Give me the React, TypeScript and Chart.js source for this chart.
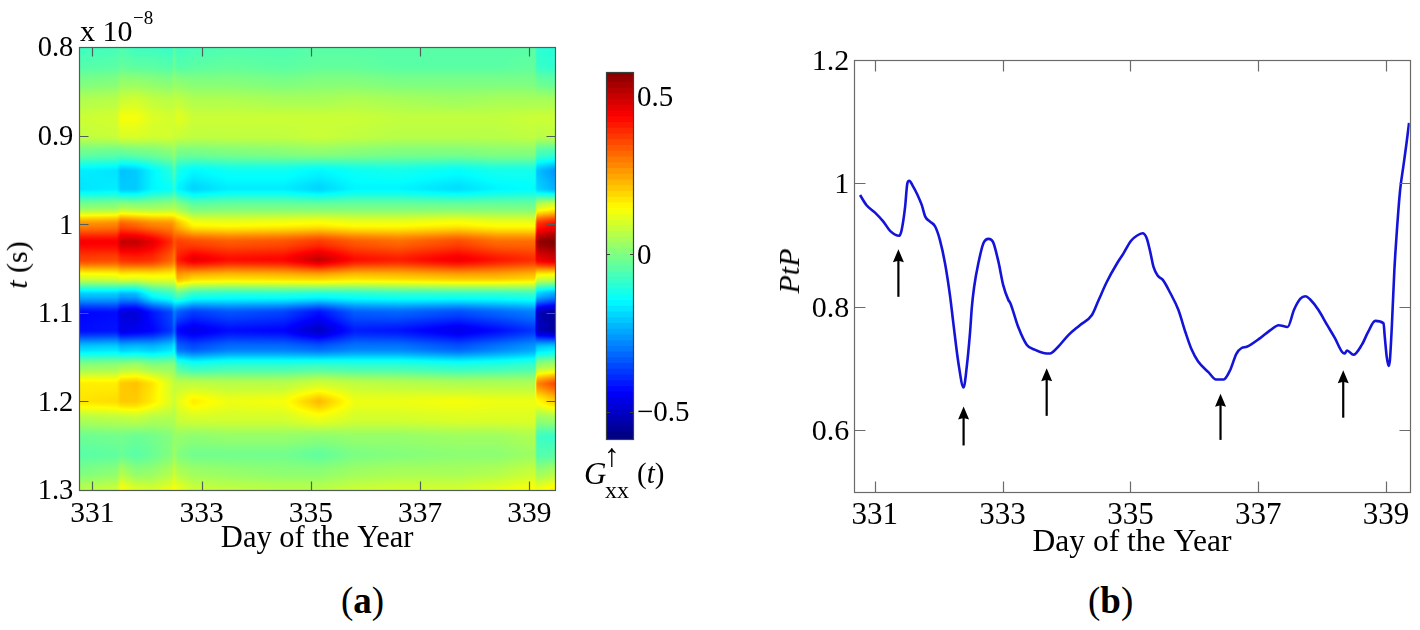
import React, { useEffect, useRef } from "react";
import { Chart, registerables } from "chart.js";

Chart.register(...registerables);

const FONT = '"Liberation Serif", "Times New Roman", serif';

// ---- panel (a) heat map ----
const tRows = [0.8, 0.82, 0.84, 0.86, 0.88, 0.9, 0.92, 0.94, 0.96, 0.98, 1.0, 1.02, 1.04, 1.06, 1.08, 1.1, 1.12, 1.14, 1.16, 1.18, 1.2, 1.22, 1.24, 1.26, 1.28, 1.3];
const heatDays = [330.76, 331.45, 331.52, 331.8, 332.1, 332.45, 332.5, 332.56, 332.85, 333.5, 334.5, 335.15, 335.8, 336.6, 337.7, 338.4, 339.1, 339.14, 339.47];
const heatColumns = [
  [-0.08, -0.06, -0.01, 0.05, 0.08, 0.07, -0.03, -0.17, -0.18, 0.0, 0.27, 0.44, 0.36, 0.1, -0.22, -0.44, -0.43, -0.2, 0.01, 0.16, 0.17, 0.05, -0.03, -0.05, -0.01, 0.06],
  [-0.07, -0.05, 0.0, 0.06, 0.09, 0.08, -0.04, -0.18, -0.17, 0.01, 0.28, 0.44, 0.35, 0.11, -0.22, -0.43, -0.42, -0.19, 0.02, 0.16, 0.18, 0.06, -0.02, -0.04, 0.01, 0.08],
  [-0.06, -0.04, 0.02, 0.08, 0.13, 0.1, -0.04, -0.22, -0.21, 0.03, 0.33, 0.5, 0.38, 0.13, -0.25, -0.48, -0.47, -0.22, 0.03, 0.2, 0.2, 0.06, -0.02, -0.03, 0.05, 0.14],
  [-0.08, -0.05, 0.02, 0.09, 0.13, 0.1, -0.03, -0.21, -0.21, 0.02, 0.31, 0.5, 0.39, 0.12, -0.24, -0.49, -0.46, -0.21, 0.04, 0.21, 0.2, 0.07, -0.03, -0.05, 0.01, 0.1],
  [-0.08, -0.05, 0.01, 0.07, 0.1, 0.09, -0.02, -0.16, -0.16, 0.02, 0.28, 0.46, 0.38, 0.13, -0.14, -0.42, -0.44, -0.22, 0.01, 0.17, 0.16, 0.05, -0.02, -0.03, 0.02, 0.09],
  [-0.09, -0.06, 0.0, 0.06, 0.09, 0.09, 0.0, -0.11, -0.14, 0.03, 0.27, 0.38, 0.32, 0.13, -0.1, -0.36, -0.38, -0.19, 0.01, 0.09, 0.1, 0.05, 0.0, 0.0, 0.05, 0.12],
  [-0.05, -0.03, 0.02, 0.07, 0.09, 0.08, 0.02, -0.06, -0.1, 0.04, 0.25, 0.34, 0.29, 0.12, -0.08, -0.3, -0.33, -0.16, 0.01, 0.07, 0.08, 0.05, 0.02, 0.03, 0.08, 0.14],
  [-0.08, -0.06, 0.01, 0.07, 0.11, 0.08, -0.02, -0.13, -0.16, 0.02, 0.22, 0.36, 0.4, 0.24, -0.05, -0.34, -0.44, -0.32, -0.07, 0.07, 0.11, 0.08, 0.02, 0.0, 0.05, 0.12],
  [-0.07, -0.05, 0.0, 0.05, 0.08, 0.07, -0.02, -0.16, -0.2, -0.03, 0.14, 0.35, 0.46, 0.2, -0.11, -0.38, -0.47, -0.35, -0.11, 0.07, 0.16, 0.09, 0.01, -0.02, 0.03, 0.08],
  [-0.06, -0.04, 0.0, 0.05, 0.08, 0.07, -0.01, -0.14, -0.17, -0.02, 0.13, 0.33, 0.42, 0.19, -0.12, -0.35, -0.43, -0.31, -0.09, 0.06, 0.12, 0.09, 0.02, -0.02, 0.02, 0.07],
  [-0.06, -0.05, -0.01, 0.04, 0.08, 0.07, 0.0, -0.14, -0.17, -0.02, 0.14, 0.34, 0.43, 0.2, -0.12, -0.37, -0.44, -0.31, -0.09, 0.06, 0.13, 0.09, 0.02, -0.02, 0.01, 0.06],
  [-0.05, -0.04, 0.0, 0.04, 0.08, 0.08, 0.01, -0.16, -0.2, -0.02, 0.15, 0.37, 0.5, 0.21, -0.13, -0.43, -0.51, -0.33, -0.08, 0.09, 0.22, 0.12, 0.01, -0.04, 0.01, 0.06],
  [-0.05, -0.04, 0.0, 0.05, 0.08, 0.07, 0.0, -0.14, -0.16, -0.02, 0.13, 0.33, 0.42, 0.19, -0.12, -0.34, -0.41, -0.3, -0.09, 0.07, 0.12, 0.09, 0.02, -0.01, 0.03, 0.08],
  [-0.05, -0.05, -0.01, 0.04, 0.07, 0.06, -0.01, -0.13, -0.16, -0.02, 0.13, 0.31, 0.4, 0.2, -0.11, -0.33, -0.42, -0.3, -0.09, 0.06, 0.12, 0.09, 0.02, 0.0, 0.04, 0.09],
  [-0.05, -0.05, -0.01, 0.03, 0.07, 0.06, -0.01, -0.15, -0.19, -0.02, 0.15, 0.35, 0.45, 0.22, -0.11, -0.36, -0.47, -0.34, -0.11, 0.05, 0.13, 0.1, 0.03, 0.01, 0.04, 0.09],
  [-0.05, -0.05, -0.01, 0.04, 0.07, 0.06, 0.0, -0.13, -0.16, -0.02, 0.13, 0.31, 0.41, 0.22, -0.11, -0.33, -0.43, -0.3, -0.1, 0.05, 0.12, 0.1, 0.03, 0.01, 0.05, 0.11],
  [-0.05, -0.04, -0.01, 0.04, 0.08, 0.07, 0.0, -0.13, -0.15, -0.02, 0.13, 0.31, 0.38, 0.2, -0.1, -0.3, -0.38, -0.26, -0.08, 0.05, 0.12, 0.1, 0.05, 0.03, 0.08, 0.14],
  [-0.1, -0.09, -0.03, 0.04, 0.08, 0.06, -0.07, -0.22, -0.2, 0.08, 0.38, 0.55, 0.45, 0.11, -0.22, -0.52, -0.51, -0.2, 0.03, 0.28, 0.14, 0.02, -0.08, -0.06, 0.02, 0.12],
  [-0.11, -0.1, -0.04, 0.04, 0.08, 0.07, -0.08, -0.27, -0.24, 0.12, 0.43, 0.58, 0.48, 0.1, -0.27, -0.56, -0.55, -0.18, 0.05, 0.35, 0.2, 0.03, -0.09, -0.05, 0.05, 0.16],
];
const colorMin = -0.588;
const colorMax = 0.578;
const colorLevels = 64;

const dayTicks = [331, 333, 335, 337, 339];
const tTicks = [0.8, 0.9, 1, 1.1, 1.2, 1.3];
const colorTicks = [-0.5, 0, 0.5];

// ---- panel (b) line ----
const ptpDays = [330.77, 330.875, 331.0, 331.135, 331.24, 331.385, 331.42, 331.475, 331.51, 331.54, 331.595, 331.67, 331.735, 331.79, 331.865, 331.945, 332.02, 332.1, 332.18, 332.23, 332.31, 332.39, 332.44, 332.49, 332.52, 332.555, 332.62, 332.7, 332.78, 332.85, 332.935, 333.01, 333.09, 333.12, 333.245, 333.38, 333.51, 333.64, 333.74, 333.87, 334.03, 334.21, 334.395, 334.5, 334.63, 334.79, 334.89, 335.01, 335.1, 335.19, 335.255, 335.31, 335.36, 335.43, 335.51, 335.62, 335.75, 335.86, 335.96, 336.06, 336.22, 336.34, 336.46, 336.56, 336.66, 336.74, 336.82, 337.03, 337.19, 337.32, 337.46, 337.56, 337.66, 337.74, 337.81, 337.94, 338.08, 338.2, 338.31, 338.35, 338.39, 338.49, 338.62, 338.72, 338.83, 338.96, 338.98, 339.01, 339.04, 339.06, 339.09, 339.13, 339.17, 339.22, 339.27, 339.32, 339.36];
const ptpValues = [0.981, 0.964, 0.953, 0.938, 0.923, 0.915, 0.924, 0.962, 1.0, 1.004, 0.996, 0.981, 0.965, 0.946, 0.938, 0.93, 0.908, 0.87, 0.816, 0.773, 0.708, 0.669, 0.703, 0.757, 0.8, 0.832, 0.87, 0.903, 0.91, 0.905, 0.873, 0.835, 0.811, 0.806, 0.767, 0.738, 0.73, 0.725, 0.724, 0.735, 0.754, 0.77, 0.786, 0.81, 0.84, 0.87, 0.886, 0.907, 0.915, 0.919, 0.911, 0.889, 0.865, 0.85, 0.843, 0.823, 0.795, 0.759, 0.73, 0.711, 0.694, 0.682, 0.682, 0.697, 0.724, 0.733, 0.735, 0.749, 0.762, 0.77, 0.767, 0.795, 0.813, 0.817, 0.812, 0.795, 0.77, 0.749, 0.727, 0.724, 0.729, 0.722, 0.738, 0.759, 0.777, 0.773, 0.751, 0.719, 0.704, 0.713, 0.767, 0.859, 0.924, 0.989, 1.027, 1.065, 1.098];
const arrowDays = [331.37, 332.39, 333.69, 336.41, 338.33];
const arrowTips = [0.893, 0.638, 0.7, 0.659, 0.697];
const arrowTails = [0.816, 0.575, 0.623, 0.584, 0.62];
const ptpTicks = [0.6, 0.8, 1, 1.2];

function jet(f: number): [number, number, number] {
  const c = (x: number) => Math.max(0, Math.min(1, x));
  const r = c(1.5 - Math.abs(4 * f - 3));
  const g = c(1.5 - Math.abs(4 * f - 2));
  const b = c(1.5 - Math.abs(4 * f - 1));
  return [Math.round(r * 255), Math.round(g * 255), Math.round(b * 255)];
}

function bracket(arr: number[], v: number): [number, number] {
  if (v <= arr[0]) return [0, 0];
  for (let i = 0; i < arr.length - 1; i++) {
    if (v <= arr[i + 1]) return [i, (v - arr[i]) / (arr[i + 1] - arr[i])];
  }
  return [arr.length - 2, 1];
}

// eased weighting between table rows gives the soft shaded bands
const soft = (f: number) => f * f * (3 - 2 * f) * 0.5 + f * 0.5;

const heatPlugin = {
  id: "heat",
  beforeDatasetsDraw(chart: any) {
    const { ctx, chartArea: a, scales } = chart;
    const left = Math.round(a.left), top = Math.round(a.top);
    const w = Math.round(a.right) - left, h = Math.round(a.bottom) - top;
    const img = ctx.createImageData(w, h);
    for (let py = 0; py < h; py++) {
      const [ti, tf0] = bracket(tRows, scales.y.getValueForPixel(top + py + 0.5));
      const tf = soft(tf0);
      for (let px = 0; px < w; px++) {
        const [di, df] = bracket(heatDays, scales.x.getValueForPixel(left + px + 0.5));
        const c0 = heatColumns[di], c1 = heatColumns[Math.min(di + 1, heatDays.length - 1)];
        const ti1 = Math.min(ti + 1, tRows.length - 1);
        const v0 = c0[ti] * (1 - tf) + c0[ti1] * tf;
        const v1 = c1[ti] * (1 - tf) + c1[ti1] * tf;
        const v = v0 * (1 - df) + v1 * df;
        const [r, g, b] = jet((v - colorMin) / (colorMax - colorMin));
        const k = (py * w + px) * 4;
        img.data[k] = r; img.data[k + 1] = g; img.data[k + 2] = b; img.data[k + 3] = 255;
      }
    }
    ctx.putImageData(img, left, top);
  },
};

function framePlugin(color: string, tick: number, xt: number[] | null, yt: number[]) {
  return {
    id: "frame",
    afterDatasetsDraw(chart: any) {
      const { ctx, chartArea: a, scales } = chart;
      const l = Math.round(a.left) + 0.5, r = Math.round(a.right) + 0.5;
      const t = Math.round(a.top) + 0.5, b = Math.round(a.bottom) + 0.5;
      ctx.save();
      ctx.strokeStyle = color;
      ctx.lineWidth = 1.2;
      ctx.strokeRect(l, t, r - l, b - t);
      ctx.beginPath();
      (xt || []).forEach((v) => {
        const x = Math.round(scales.x.getPixelForValue(v)) + 0.5;
        ctx.moveTo(x, b); ctx.lineTo(x, b - tick);
        ctx.moveTo(x, t); ctx.lineTo(x, t + tick);
      });
      yt.forEach((v) => {
        const y = Math.round(scales.y.getPixelForValue(v)) + 0.5;
        ctx.moveTo(l, y); ctx.lineTo(l + tick, y);
        ctx.moveTo(r, y); ctx.lineTo(r - tick, y);
      });
      ctx.stroke();
      ctx.restore();
    },
  };
}

const arrowPlugin = {
  id: "arrows",
  afterDatasetsDraw(chart: any) {
    const { ctx, scales } = chart;
    ctx.save();
    ctx.strokeStyle = "#000";
    ctx.fillStyle = "#000";
    arrowDays.forEach((d, i) => {
      const x = scales.x.getPixelForValue(d);
      const tip = scales.y.getPixelForValue(arrowTips[i]);
      const tail = scales.y.getPixelForValue(arrowTails[i]);
      ctx.lineWidth = 2.2;
      ctx.beginPath();
      ctx.moveTo(x, tail);
      ctx.lineTo(x, tip + 8);
      ctx.stroke();
      ctx.beginPath();
      ctx.moveTo(x, tip);
      ctx.lineTo(x + 5.5, tip + 13);
      ctx.lineTo(x, tip + 11.5);
      ctx.lineTo(x - 5.5, tip + 13);
      ctx.closePath();
      ctx.fill();
    });
    ctx.restore();
  },
};

const fmt = (v: any) => String(v);
const noGrid = { display: false, drawTicks: false };

function xAxis(min: number, max: number, height: number, size: number, titleSize: number, pad: number, titlePad: number) {
  return {
    type: "linear",
    position: "bottom",
    min,
    max,
    grid: noGrid,
    border: { display: false },
    afterBuildTicks: (s: any) => { s.ticks = dayTicks.map((value) => ({ value })); },
    afterFit: (s: any) => { s.height = height; },
    ticks: { autoSkip: false, maxRotation: 0, padding: pad, color: "#000", font: { family: FONT, size }, callback: fmt },
    title: { display: true, text: "Day of the Year", color: "#000", font: { family: FONT, size: titleSize }, padding: { top: 0, bottom: titlePad } },
  };
}

function yAxis(min: number, max: number, width: number, size: number, pad: number, vals: number[], reverse: boolean) {
  return {
    type: "linear",
    position: "left",
    min,
    max,
    reverse,
    grid: noGrid,
    border: { display: false },
    afterBuildTicks: (s: any) => { s.ticks = vals.map((value) => ({ value })); },
    afterFit: (s: any) => { s.width = width; },
    ticks: { autoSkip: false, padding: pad, labelOffset: 2, color: "#000", font: { family: FONT, size }, callback: fmt },
  };
}

const serif: React.CSSProperties = { position: "absolute", fontFamily: FONT, color: "#000", lineHeight: 1, whiteSpace: "nowrap" };

export default function App() {
  const heatRef = useRef<HTMLCanvasElement>(null);
  const barRef = useRef<HTMLCanvasElement>(null);
  const lineRef = useRef<HTMLCanvasElement>(null);

  useEffect(() => {
    document.body.style.margin = "0";
    const heatPoints: any[] = [];
    heatDays.forEach((x, i) => tRows.forEach((y, j) => heatPoints.push({ x, y, v: heatColumns[i][j] })));

    const heat = new Chart(heatRef.current!, {
      type: "scatter",
      data: { datasets: [{ data: heatPoints, pointRadius: 0, showLine: false }] },
      options: {
        animation: false, responsive: false,
        layout: { padding: { top: 47, right: 35, left: 0, bottom: 0 } },
        plugins: { legend: { display: false }, tooltip: { enabled: false }, title: { display: false } },
        scales: {
          x: xAxis(330.762, 339.47, 70, 29.5, 30.5, 7, 3),
          y: yAxis(0.8, 1.3, 79.3, 28.5, 6, tTicks, true),
        },
      } as any,
      plugins: [heatPlugin, framePlugin("#4f5f58", 9, dayTicks, tTicks)],
    });

    const levels = Array.from({ length: colorLevels }, (_, i) => i);
    const step = (colorMax - colorMin) / colorLevels;
    const bar = new Chart(barRef.current!, {
      type: "bar",
      data: {
        labels: ["G"],
        datasets: levels.map((i) => {
          const [r, g, b] = jet((i + 0.5) / colorLevels);
          return {
            data: [[colorMin + i * step, colorMin + (i + 1) * step + 0.004]],
            backgroundColor: `rgb(${r},${g},${b})`,
            borderWidth: 0,
            grouped: false,
            barPercentage: 1,
            categoryPercentage: 1,
          };
        }) as any,
      },
      options: {
        animation: false, responsive: false,
        layout: { padding: { top: 72, left: 26.3, right: 0, bottom: 120.7 } },
        plugins: { legend: { display: false }, tooltip: { enabled: false } },
        scales: {
          x: { display: false },
          y: {
            position: "right",
            min: colorMin,
            max: colorMax,
            grid: noGrid,
            border: { display: false },
            afterBuildTicks: (s: any) => { s.ticks = colorTicks.map((value) => ({ value })); },
            afterFit: (s: any) => { s.width = 107; },
            ticks: {
              autoSkip: false, padding: 4, labelOffset: 2, color: "#000",
              font: { family: FONT, size: 29 },
              callback: (v: any) => (Number(v) < 0 ? "\u2212" + Math.abs(Number(v)) : String(v)),
            },
          },
        },
      } as any,
      plugins: [framePlugin("#39413d", 3.5, null, colorTicks)],
    });

    const line = new Chart(lineRef.current!, {
      type: "line",
      data: {
        datasets: [{
          data: ptpDays.map((x, i) => ({ x, y: ptpValues[i] })),
          borderColor: "#1414d9",
          borderWidth: 2.6,
          pointRadius: 0,
          fill: false,
          cubicInterpolationMode: "monotone",
        }],
      },
      options: {
        animation: false, responsive: false,
        layout: { padding: { top: 60, right: 10.3, left: 0, bottom: 0 } },
        plugins: { legend: { display: false }, tooltip: { enabled: false } },
        scales: {
          x: xAxis(330.68, 339.37, 78.3, 31, 31.5, 6, 8),
          y: yAxis(0.5, 1.2, 124.3, 30, 5, ptpTicks, false),
        },
      } as any,
      plugins: [framePlugin("#6a6a6a", 11, dayTicks, ptpTicks), arrowPlugin],
    });

    return () => { heat.destroy(); bar.destroy(); line.destroy(); };
  }, []);

  return (
    <div style={{ position: "absolute", left: 0, top: 0, width: 1420, height: 630, background: "#fff", overflow: "hidden" }}>
      <canvas ref={heatRef} width={590} height={560} style={{ position: "absolute", left: 0, top: 0 }} />
      <canvas ref={barRef} width={160} height={560} style={{ position: "absolute", left: 580, top: 0 }} />
      <canvas ref={lineRef} width={690} height={570} style={{ position: "absolute", left: 730, top: 0 }} />

      <span style={{ ...serif, left: 80, top: 16, fontSize: 30 }}>x 10</span>
      <span style={{ ...serif, left: 133, top: 8, fontSize: 19 }}>{"\u22128"}</span>

      <span style={{ ...serif, left: 17, top: 265, fontSize: 30, transform: "translate(-50%,-50%) rotate(-90deg)" }}>
        <i>t</i> (s)
      </span>
      <span style={{ ...serif, left: 789, top: 271, fontSize: 30, transform: "translate(-50%,-50%) rotate(-90deg)" }}>
        <i>PtP</i>
      </span>

      <span style={{ ...serif, left: 584, top: 458, fontSize: 31, fontStyle: "italic" }}>G</span>
      <span style={{ ...serif, left: 604, top: 439, fontSize: 32 }}>{"\u2191"}</span>
      <span style={{ ...serif, left: 605, top: 478, fontSize: 24 }}>xx</span>
      <span style={{ ...serif, left: 637, top: 459, fontSize: 29 }}>(<i>t</i>)</span>

      <span style={{ ...serif, left: 341, top: 582, fontSize: 37 }}>(<b>a</b>)</span>
      <span style={{ ...serif, left: 1088, top: 582, fontSize: 37 }}>(<b>b</b>)</span>
    </div>
  );
}
